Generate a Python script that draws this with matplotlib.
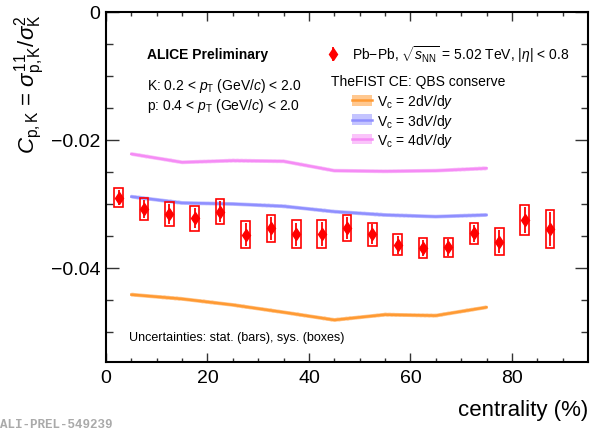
import numpy as np
import matplotlib
matplotlib.use("Agg")
import matplotlib.pyplot as plt
from matplotlib.patches import Patch
from matplotlib.lines import Line2D

# ── data ─────────────────────────────────────────────────────────────────────
centrality = [2.5, 7.5, 12.5, 17.5, 22.5, 27.5, 32.5, 37.5, 42.5,
              47.5, 52.5, 57.5, 62.5, 67.5, 72.5, 77.5, 82.5, 87.5]
c_pk = [-0.0290, -0.0308, -0.0316, -0.0322, -0.0312, -0.0348, -0.0338, -0.0347, -0.0347,
        -0.0338, -0.0347, -0.0364, -0.0369, -0.0368, -0.0346, -0.0359, -0.0325, -0.0339]
c_pk_sys = [0.00146, 0.0017, 0.0019, 0.00195, 0.0019, 0.0021, 0.0021, 0.00216, 0.0022,
            0.0020, 0.0018, 0.00164, 0.00154, 0.00154, 0.0016, 0.0021, 0.0023, 0.0030]
c_pk_stat = [0.0012, 0.0014, 0.0016, 0.0016, 0.0016, 0.0018, 0.0018, 0.0018, 0.0019,
             0.0017, 0.0015, 0.0014, 0.0013, 0.0013, 0.0013, 0.0018, 0.0020, 0.0026]

model_cent = [5, 15, 25, 35, 45, 55, 65, 75]
vc2 = [-0.04417, -0.04484, -0.04578, -0.04693, -0.04813, -0.04730, -0.04745, -0.04615]
vc3 = [-0.02886, -0.02984, -0.03000, -0.03036, -0.03120, -0.03172, -0.03198, -0.03172]
vc4 = [-0.02219, -0.02349, -0.02323, -0.02333, -0.02480, -0.02490, -0.02480, -0.02443]
band_err = [0.0003, 0.0003, 0.0003, 0.0003, 0.0003, 0.0003, 0.0003, 0.0003]

xticks = [0, 20, 40, 60, 80]
xtick_labels = ["0", "20", "40", "60", "80"]
yticks = [0, -0.02, -0.04]
ytick_labels = ["0", "\u22120.02", "\u22120.04"]

# ── style ────────────────────────────────────────────────────────────────────
plt.rcParams["font.family"] = ["Liberation Sans", "DejaVu Sans"]
plt.rcParams["mathtext.fontset"] = "custom"
plt.rcParams["mathtext.rm"] = "Liberation Sans"
plt.rcParams["mathtext.it"] = "Liberation Sans:italic"
plt.rcParams["mathtext.bf"] = "Liberation Sans:bold"
plt.rcParams["mathtext.sf"] = "Liberation Sans"

RED = "#ff0000"
bands = [
    (vc2, "#ff9a33", "#ffc890", r"V$_{\rm c}$ = 2d$V$/d$y$"),
    (vc3, "#8f8fff", "#c4c4ff", r"V$_{\rm c}$ = 3d$V$/d$y$"),
    (vc4, "#f58cf5", "#fac4fa", r"V$_{\rm c}$ = 4d$V$/d$y$"),
]

fig = plt.figure(figsize=(5.91, 4.31), dpi=100)
ax = fig.add_axes([106 / 591, 1 - 363 / 431, 482 / 591, 350 / 431])

# ── model bands ──────────────────────────────────────────────────────────────
mc = np.array(model_cent)
err = np.array(band_err)
band_handles = []
for vals, col, light, label in bands:
    v = np.array(vals)
    ax.fill_between(mc, v - err, v + err, facecolor=light, edgecolor=light,
                    hatch="....", linewidth=0, zorder=2)
    ax.plot(mc, v, color=col, lw=1.8, zorder=3)
    band_handles.append((Patch(facecolor=light, edgecolor=light, hatch="....", lw=0),
                         Line2D([], [], color=col, lw=1.8)))

# ── data: sys boxes + stat bars ──────────────────────────────────────────────
cx = np.array(centrality)
cy = np.array(c_pk)
sy = np.array(c_pk_sys)
ax.bar(cx, 2 * sy, bottom=cy - sy, width=1.7, fill=False,
       edgecolor=RED, linewidth=1.2, zorder=4)
eb = ax.errorbar(cx, cy, yerr=c_pk_stat, fmt="d", color=RED, markersize=6,
                 elinewidth=1.3, capsize=0, zorder=5,
                 label=r"Pb$-$Pb, $\sqrt{s_{\rm NN}}$ = 5.02 TeV, |$\eta$| < 0.8")

# ── axes ─────────────────────────────────────────────────────────────────────
ax.set_xlim(0, 95)
ax.set_ylim(-0.0547, 0)
ax.set_xticks(xticks)
ax.set_xticklabels(xtick_labels)
ax.set_xticks(np.arange(5, 95, 5), minor=True)
ax.set_yticks(yticks)
ax.set_yticklabels(ytick_labels)
ax.set_yticks(np.arange(-0.05, 0, 0.005), minor=True)
ax.tick_params(which="both", direction="in", top=True, right=True, labelsize=14,
               width=1.0, color="#333333")
ax.tick_params(axis="x", which="major", length=6.5, pad=5)
ax.tick_params(axis="x", which="minor", length=3.2)
ax.tick_params(axis="y", which="major", length=9.4, pad=4)
ax.tick_params(axis="y", which="minor", length=4.7)
for spine in ax.spines.values():
    spine.set_linewidth(1.5)

fig.text(30 / 591, 1 - 14 / 431,
         r"$C_{\rm p,K}$ = $\sigma^{11}_{\rm p,K}/\sigma^{2}_{\rm K}$",
         rotation=90, ha="center", va="top", fontsize=16)
fig.text(588 / 591, 1 - 411 / 431, "centrality (%)", ha="right", va="center", fontsize=16)

# ── annotations ──────────────────────────────────────────────────────────────
ax.text(0.085, 0.88, "ALICE Preliminary", transform=ax.transAxes,
        fontsize=10, fontweight="bold", va="center")
ax.text(0.085, 0.791, r"K: 0.2 < $p_{\rm T}$ (GeV/$c$) < 2.0", transform=ax.transAxes,
        fontsize=10, va="center")
ax.text(0.085, 0.734, r"p: 0.4 < $p_{\rm T}$ (GeV/$c$) < 2.0", transform=ax.transAxes,
        fontsize=10, va="center")
ax.text(0.048, 0.07, "Uncertainties: stat. (bars), sys. (boxes)", transform=ax.transAxes,
        fontsize=9, va="center")
ax.text(0.467, 0.803, "TheFIST CE: QBS conserve", transform=ax.transAxes,
        fontsize=10, va="center")

leg1 = ax.legend(handles=[eb], loc="center left", bbox_to_anchor=(0.456, 0.88),
                 frameon=False, fontsize=10, borderpad=0, borderaxespad=0,
                 handlelength=1.0, handletextpad=0.87)
ax.add_artist(leg1)
ax.legend(band_handles, [b[3] for b in bands], loc="upper left",
          bbox_to_anchor=(0.510, 0.77), frameon=False, fontsize=10, borderpad=0,
          borderaxespad=0, handlelength=1.45, handleheight=0.8, handletextpad=0.36,
          labelspacing=0.08)

fig.text(0.0, 1 - 425 / 431, "ALI-PREL-549239", fontsize=9, color="#aaaaaa",
         family=["Liberation Mono", "DejaVu Sans Mono"], fontweight="bold",
         ha="left", va="center")

fig.savefig("out.png", dpi=100)
